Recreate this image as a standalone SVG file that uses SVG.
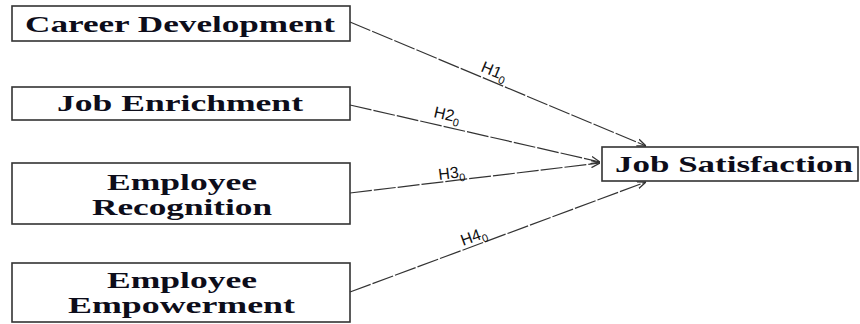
<svg xmlns="http://www.w3.org/2000/svg" width="860" height="324" viewBox="0 0 860 324">
<style>
.box{fill:#fff;stroke:#333;stroke-width:1.6}
.t{font-family:"Liberation Serif","Times New Roman",serif;font-weight:bold;font-size:24px;fill:#0d0d1a}
.c{fill:none;stroke:#333;stroke-width:1.2;stroke-dasharray:22 2}
.h{font-family:"Liberation Sans",Arial,sans-serif;font-size:16px;fill:#111}
.s{font-size:11px}
</style>
<defs>
<marker id="ar" viewBox="0 0 10 10" refX="10" refY="5" markerWidth="9" markerHeight="9" orient="auto" markerUnits="userSpaceOnUse">
<path d="M0,1 L10,5 L0,9" fill="none" stroke="#333" stroke-width="1.4"/>
</marker>
</defs>
<g id="career">
<rect class="box" x="12" y="6" width="338" height="35"/>
<text class="t" x="25" y="32" textLength="310" lengthAdjust="spacingAndGlyphs">Career Development</text>
</g>
<g id="enrichment">
<rect class="box" x="12" y="87" width="338" height="33"/>
<text class="t" x="57" y="111" textLength="246" lengthAdjust="spacingAndGlyphs">Job Enrichment</text>
</g>
<g id="recognition">
<rect class="box" x="12" y="163" width="338" height="61"/>
<text class="t" x="107" y="190" textLength="150" lengthAdjust="spacingAndGlyphs">Employee</text>
<text class="t" x="92" y="215" textLength="180" lengthAdjust="spacingAndGlyphs">Recognition</text>
</g>
<g id="empowerment">
<rect class="box" x="12" y="263" width="338" height="59"/>
<text class="t" x="107" y="288" textLength="150" lengthAdjust="spacingAndGlyphs">Employee</text>
<text class="t" x="68" y="313" textLength="227" lengthAdjust="spacingAndGlyphs">Empowerment</text>
</g>
<g id="satisfaction">
<rect class="box" x="602" y="147" width="256" height="34"/>
<text class="t" x="615" y="172" textLength="238" lengthAdjust="spacingAndGlyphs">Job Satisfaction</text>
</g>
<g id="connectors">
<line class="c" x1="350" y1="22" x2="646" y2="146" marker-end="url(#ar)"/>
<line class="c" x1="350" y1="105" x2="600" y2="162" marker-end="url(#ar)"/>
<line class="c" x1="350" y1="193" x2="600" y2="163" marker-end="url(#ar)"/>
<line class="c" x1="350" y1="292" x2="646" y2="182" marker-end="url(#ar)"/>
<text class="h" transform="translate(480,71) rotate(22.5)">H1<tspan class="s" dy="4">0</tspan></text>
<text class="h" transform="translate(433,117) rotate(13)">H2<tspan class="s" dy="4">0</tspan></text>
<text class="h" transform="translate(439,180) rotate(-7)">H3<tspan class="s" dy="4">0</tspan></text>
<text class="h" transform="translate(463,246) rotate(-20)">H4<tspan class="s" dy="4">0</tspan></text>
</g>
</svg>
